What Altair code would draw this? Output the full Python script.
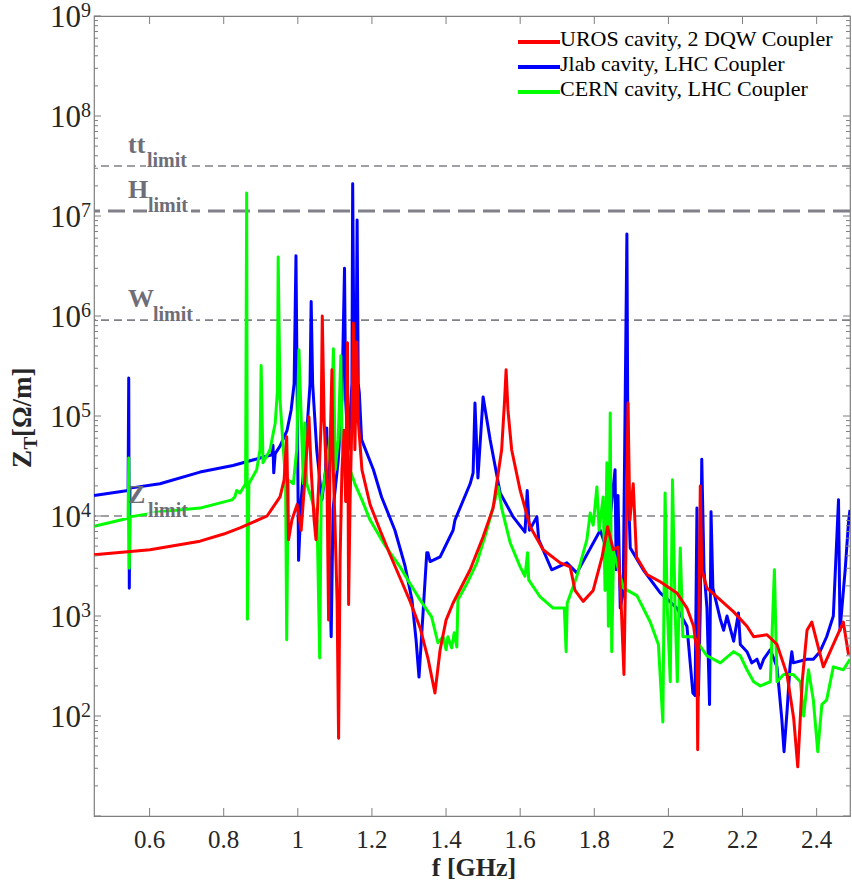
import altair as alt
import pandas as pd

W, H = 756, 800

# ---------------- data (f in GHz, Z_T in Ohm/m) ----------------
uros = [(0.450, 4.1e3), (0.601, 4.6e3), (0.736, 5.6e3), (0.800, 6.6e3), (0.844, 7.6e3), (0.917, 1.0e4),
        (0.952, 1.55e4), (0.963, 2.3e4), (0.970, 6.2e4), (0.975, 5.8e3), (0.984, 9.1e3), (0.998, 1.3e4),
        (1.009, 7.2e3), (1.019, 2.3e4), (1.030, 9.8e4), (1.036, 2.9e4), (1.044, 9.1e3), (1.049, 5.8e3),
        (1.057, 2.3e4), (1.063, 9.1e4), (1.066, 1.0e6), (1.071, 9.1e4), (1.079, 1.8e4), (1.083, 910),
        (1.087, 4.6e4), (1.092, 2.9e5), (1.095, 3.6e4), (1.100, 9.1e3), (1.106, 1.4e3), (1.110, 60),
        (1.114, 3.6e3), (1.119, 2.9e4), (1.125, 7.2e4), (1.129, 1.4e4), (1.134, 5.4e5), (1.137, 1.3e3),
        (1.141, 1.4e4), (1.146, 9.1e4), (1.150, 8.5e5), (1.154, 4.6e4), (1.159, 5.5e5), (1.163, 9.1e4),
        (1.173, 2.9e4), (1.195, 1.3e4), (1.222, 7.2e3), (1.249, 4.1e3), (1.276, 2.4e3), (1.303, 1.4e3),
        (1.330, 760), (1.351, 380), (1.370, 170), (1.384, 460), (1.400, 910), (1.419, 1.35e3),
        (1.465, 2.9e3), (1.500, 6.2e3), (1.527, 1.2e4), (1.550, 4.6e4), (1.558, 1.45e5), (1.562, 2.9e5),
        (1.567, 1.15e5), (1.577, 4.6e4), (1.600, 1.8e4), (1.627, 7.8e3), (1.662, 4.6e3), (1.708, 3.4e3),
        (1.735, 3.1e3), (1.748, 1.8e3), (1.770, 1.4e3), (1.797, 1.8e3), (1.821, 3.9e3), (1.836, 7.8e3),
        (1.851, 4.6e3), (1.864, 4.9e3), (1.872, 1.45e3), (1.880, 260), (1.885, 3.6e3), (1.891, 1.35e5),
        (1.896, 9.1e3), (1.905, 2.1e4), (1.914, 3.9e3), (1.942, 2.6e3), (1.978, 2.2e3), (2.023, 1.7e3),
        (2.050, 1.2e3), (2.068, 790), (2.077, 440), (2.079, 46), (2.083, 1.45e3), (2.086, 2.0e4),
        (2.090, 2.9e3), (2.104, 1.9e3), (2.140, 1.45e3), (2.176, 1.1e3), (2.212, 790), (2.230, 620),
        (2.266, 650), (2.293, 520), (2.320, 260), (2.338, 95), (2.349, 31), (2.361, 220), (2.374, 720),
        (2.387, 870), (2.418, 310), (2.445, 520), (2.472, 870), (2.486, 410)]

jlab = [(0.450, 1.6e4), (0.542, 1.8e4), (0.5437, 2.4e5), (0.5453, 1.9e3), (0.547, 1.9e4), (0.628, 2.1e4),
        (0.736, 2.75e4), (0.825, 3.2e4), (0.898, 3.8e4), (0.930, 4.1e4), (0.933, 5.1e4), (0.935, 2.7e4),
        (0.939, 4.2e4), (0.952, 5.0e4), (0.971, 7.2e4), (0.982, 1.15e5), (0.990, 2.1e5), (0.995, 4.0e6),
        (0.999, 9.1e4), (1.002, 3.6e3), (1.009, 1.45e4), (1.024, 6.8e4), (1.033, 2.1e5), (1.036, 1.4e6),
        (1.040, 2.1e5), (1.051, 4.6e4), (1.065, 1.45e4), (1.075, 2.9e4), (1.078, 7.6e4), (1.082, 1.15e4),
        (1.090, 620), (1.095, 1.15e4), (1.109, 3.6e4), (1.119, 1.45e5), (1.126, 3.0e6), (1.129, 1.45e5),
        (1.136, 4.6e4), (1.146, 2.1e5), (1.148, 2.1e7), (1.152, 2.1e5), (1.156, 9.1e4), (1.160, 9.1e6),
        (1.163, 2.1e5), (1.166, 1.7e5), (1.172, 5.8e4), (1.204, 2.9e4), (1.226, 1.55e4), (1.262, 7.2e3),
        (1.289, 3.2e3), (1.308, 1.45e3), (1.319, 580), (1.327, 245), (1.335, 720), (1.348, 4.3e3),
        (1.351, 4.3e3), (1.357, 3.5e3), (1.384, 3.9e3), (1.419, 7.2e3), (1.424, 9.1e3), (1.465, 2.1e4),
        (1.473, 2.7e4), (1.478, 1.35e5), (1.486, 2.4e4), (1.500, 1.55e5), (1.519, 5.8e4), (1.546, 1.7e4),
        (1.581, 9.8e3), (1.613, 6.9e3), (1.619, 1.8e4), (1.625, 7.2e3), (1.645, 9.8e3), (1.650, 5.8e3),
        (1.685, 2.9e3), (1.726, 3.4e3), (1.753, 2.7e3), (1.816, 7.2e3), (1.834, 4.6e3), (1.856, 2.9e4),
        (1.859, 2.9e3), (1.864, 1.6e4), (1.870, 1.2e3), (1.878, 1.7e3), (1.888, 6.6e6), (1.891, 2.4e4),
        (1.897, 4.8e3), (1.932, 2.9e3), (1.978, 1.7e3), (2.023, 1.2e3), (2.050, 790), (2.066, 170),
        (2.072, 160), (2.077, 1.2e4), (2.081, 160), (2.086, 1.2e3), (2.090, 3.7e4), (2.096, 2.9e3),
        (2.104, 1.2e3), (2.111, 130), (2.115, 1.1e4), (2.120, 1.9e3), (2.140, 930), (2.149, 720),
        (2.158, 1.0e3), (2.176, 560), (2.189, 1.07e3), (2.194, 520), (2.212, 440), (2.225, 340),
        (2.239, 370), (2.248, 300), (2.257, 370), (2.275, 460), (2.293, 310), (2.306, 93), (2.312, 44),
        (2.320, 110), (2.328, 310), (2.333, 440), (2.337, 340), (2.374, 370), (2.391, 370), (2.409, 440),
        (2.427, 620), (2.445, 1.0e3), (2.459, 1.45e4), (2.463, 720), (2.477, 2.9e3), (2.486, 8.7e3),
        (2.490, 1.15e4)]

cern = [(0.450, 7.9e3), (0.542, 9.5e3), (0.5437, 3.8e4), (0.5453, 3.0e3), (0.547, 9.8e3), (0.628, 1.1e4),
        (0.736, 1.2e4), (0.822, 1.45e4), (0.830, 1.55e4), (0.835, 1.8e4), (0.844, 1.7e4), (0.859, 2.1e4),
        (0.862, 1.7e7), (0.864, 930), (0.868, 2.1e4), (0.889, 2.9e4), (0.898, 4.6e4), (0.901, 3.2e5),
        (0.906, 3.4e4), (0.925, 4.6e4), (0.939, 8.5e4), (0.945, 1.8e5), (0.947, 3.9e6), (0.952, 1.45e5),
        (0.961, 4.6e4), (0.967, 2.3e4), (0.970, 580), (0.974, 2.3e4), (0.988, 2.1e4), (0.997, 4.6e4),
        (1.003, 4.6e5), (1.009, 9.8e4), (1.015, 2.1e4), (1.019, 8.5e4), (1.024, 2.1e4), (1.038, 1.45e4),
        (1.052, 9.1e3), (1.059, 380), (1.063, 1.45e4), (1.076, 2.9e4), (1.090, 7.2e4), (1.096, 4.7e5),
        (1.101, 2.9e4), (1.109, 5.8e4), (1.116, 4.0e5), (1.119, 5.8e4), (1.128, 2.3e4), (1.141, 2.9e4),
        (1.154, 2.1e4), (1.173, 1.45e4), (1.195, 9.1e3), (1.235, 5.1e3), (1.276, 3.1e3), (1.303, 2.1e3),
        (1.330, 1.45e3), (1.361, 980), (1.378, 540), (1.392, 620), (1.400, 460), (1.405, 620),
        (1.415, 480), (1.422, 680), (1.429, 490), (1.432, 1.45e3), (1.456, 2.1e3), (1.483, 3.4e3),
        (1.510, 7.2e3), (1.532, 1.45e4), (1.541, 1.95e4), (1.550, 1.2e4), (1.573, 5.4e3), (1.600, 3.1e3),
        (1.613, 2.5e3), (1.620, 4.3e3), (1.623, 2.3e3), (1.654, 1.55e3), (1.689, 1.2e3), (1.719, 1.2e3),
        (1.724, 440), (1.727, 1.35e3), (1.753, 2.5e3), (1.780, 5.8e3), (1.789, 1.07e4), (1.797, 8.1e3),
        (1.807, 1.95e4), (1.813, 7.2e3), (1.824, 1.55e4), (1.829, 1.8e3), (1.834, 3.4e4), (1.838, 790),
        (1.843, 1.07e5), (1.847, 440), (1.852, 4.4e3), (1.879, 1.9e3), (1.915, 1.6e3), (1.951, 870),
        (1.973, 520), (1.985, 87), (1.991, 1.7e4), (1.997, 1.2e3), (2.005, 220), (2.011, 2.3e4),
        (2.018, 1.2e3), (2.024, 220), (2.032, 4.8e3), (2.039, 620), (2.068, 620), (2.104, 400),
        (2.140, 340), (2.176, 440), (2.194, 400), (2.212, 290), (2.230, 220), (2.248, 200), (2.275, 220),
        (2.286, 2.9e3), (2.293, 220), (2.311, 260), (2.337, 260), (2.356, 220), (2.365, 100), (2.378, 290),
        (2.391, 145), (2.403, 44), (2.414, 130), (2.427, 145), (2.445, 310), (2.472, 290), (2.490, 370)]

series_names = ["UROS cavity, 2 DQW Coupler", "Jlab cavity, LHC Coupler", "CERN cavity, LHC Coupler"]
series_data = [uros, jlab, cern]

limit_main = ["tt", "H", "W", "Z"]
limit_sub = ["limit", "limit", "limit", "limit"]
limit_value = [3.16e7, 1.12e7, 9.1e5, 1.0e4]

x_tick_values = [0.6, 0.8, 1.0, 1.2, 1.4, 1.6, 1.8, 2.0, 2.2, 2.4]
x_tick_labels = ["0.6", "0.8", "1", "1.2", "1.4", "1.6", "1.8", "2", "2.2", "2.4"]
y_label_exponents = [2, 3, 4, 5, 6, 7, 8, 9]
y_decade_exponents = [1, 2, 3, 4, 5, 6, 7, 8, 9]

# ---------------- styles ----------------
series_colors = {"UROS cavity, 2 DQW Coupler": "#ff0000",
                 "Jlab cavity, LHC Coupler": "#0000ff",
                 "CERN cavity, LHC Coupler": "#00ff00"}
draw_order = ["Jlab cavity, LHC Coupler", "CERN cavity, LHC Coupler", "UROS cavity, 2 DQW Coupler"]
SERIF = "Liberation Serif"
AX = "#7f7f7f"
TXT = "#262626"
LIM = "#6e6e78"
limit_sub_dx = {"tt": 19, "H": 20, "W": 25, "Z": 20}

xs = alt.Scale(domain=[0.45, 2.49], nice=False, zero=False)
ys = alt.Scale(type="log", domain=[10, 1e9], nice=False)

layers = []

# dashed limit lines
lim_df = pd.DataFrame({"name": limit_main, "sub": limit_sub, "v": limit_value})
layers.append(alt.Chart(lim_df).transform_filter(alt.datum.name != "H").mark_rule(
    color="#808088", strokeWidth=1.6, strokeDash=[8, 5]).encode(y=alt.Y("v:Q", scale=ys, axis=None)))
layers.append(alt.Chart(lim_df).transform_filter(alt.datum.name == "H").mark_rule(
    color="#808088", strokeWidth=3, strokeDash=[17, 8]).encode(y=alt.Y("v:Q", scale=ys, axis=None)))

# series lines
for name in draw_order:
    pts = series_data[series_names.index(name)]
    df = pd.DataFrame({"f": [p[0] for p in pts], "z": [p[1] for p in pts], "i": list(range(len(pts)))})
    layers.append(alt.Chart(df).mark_line(color=series_colors[name], strokeWidth=3, clip=True,
                                          strokeJoin="round").encode(
        x=alt.X("f:Q", scale=xs, axis=None),
        y=alt.Y("z:Q", scale=ys, axis=None),
        order="i:Q"))

# limit labels (white background behind subscript)
for nm, sb, v in zip(limit_main, limit_sub, limit_value):
    d = pd.DataFrame({"v": [v], "main": [nm], "sub": [sb]})
    sx = 34 + limit_sub_dx[nm]
    layers.append(alt.Chart(d).mark_rule(color="white", strokeWidth=7).encode(
        y=alt.Y("v:Q", scale=ys, axis=None), x=alt.value(sx - 1), x2=alt.value(sx + 43)))
    layers.append(alt.Chart(d).mark_text(font=SERIF, fontWeight="bold", fontSize=26, color=LIM,
                                         align="left", baseline="alphabetic", dy=-13).encode(
        y=alt.Y("v:Q", scale=ys, axis=None), x=alt.value(34), text="main:N"))
    layers.append(alt.Chart(d).mark_text(font=SERIF, fontWeight="bold", fontSize=20, color=LIM,
                                         align="left", baseline="alphabetic", dy=1).encode(
        y=alt.Y("v:Q", scale=ys, axis=None), x=alt.value(sx), text="sub:N"))

# ticks (inward, MATLAB style)
maj = pd.DataFrame({"v": [10.0 ** e for e in y_decade_exponents]})
mino = pd.DataFrame({"v": [k * 10.0 ** e for e in y_decade_exponents[:-1] for k in range(2, 10)]})
for d, ln in [(maj, 7), (mino, 4)]:
    layers.append(alt.Chart(d).mark_rule(color=AX, strokeWidth=1).encode(
        y=alt.Y("v:Q", scale=ys, axis=None), x=alt.value(0), x2=alt.value(ln)))
    layers.append(alt.Chart(d).mark_rule(color=AX, strokeWidth=1).encode(
        y=alt.Y("v:Q", scale=ys, axis=None), x=alt.value(W), x2=alt.value(W - ln)))
xt = pd.DataFrame({"v": x_tick_values, "lab": x_tick_labels})
layers.append(alt.Chart(xt).mark_rule(color=AX, strokeWidth=1).encode(
    x=alt.X("v:Q", scale=xs, axis=None), y=alt.value(H), y2=alt.value(H - 8)))
layers.append(alt.Chart(xt).mark_rule(color=AX, strokeWidth=1).encode(
    x=alt.X("v:Q", scale=xs, axis=None), y=alt.value(0), y2=alt.value(8)))

# tick labels
layers.append(alt.Chart(xt).mark_text(font=SERIF, fontSize=25, color=TXT, align="center",
                                      baseline="alphabetic").encode(
    x=alt.X("v:Q", scale=xs, axis=None), y=alt.value(H + 32), text="lab:N"))
yl = pd.DataFrame({"v": [10.0 ** e for e in y_label_exponents], "base": ["10"] * len(y_label_exponents),
                   "exp": [str(e) for e in y_label_exponents]})
layers.append(alt.Chart(yl).mark_text(font=SERIF, fontSize=31, color=TXT, align="right",
                                      baseline="alphabetic", dy=11).encode(
    y=alt.Y("v:Q", scale=ys, axis=None), x=alt.value(-13), text="base:N"))
layers.append(alt.Chart(yl).mark_text(font=SERIF, fontSize=20, color=TXT, align="left",
                                      baseline="alphabetic", dy=1).encode(
    y=alt.Y("v:Q", scale=ys, axis=None), x=alt.value(-13), text="exp:N"))

# axis titles
one = lambda t: pd.DataFrame({"t": [t]})
layers.append(alt.Chart(one("f [GHz]")).mark_text(font=SERIF, fontWeight="bold", fontSize=26, color=TXT,
                                                  align="center", baseline="alphabetic").encode(
    x=alt.value(380), y=alt.value(H + 60), text="t:N"))
for t, xv, yv, fs in [("Z", -63, 452, 27), ("T", -57, 433.5, 19), ("[Ω/m]", -63, 421, 27)]:
    layers.append(alt.Chart(one(t)).mark_text(font=SERIF, fontWeight="bold", fontSize=fs, color=TXT,
                                              align="left", baseline="alphabetic", angle=270).encode(
        x=alt.value(xv), y=alt.value(yv), text="t:N"))

# legend
for i, name in enumerate(series_names):
    ly = 26 + 25 * i
    d = one(name)
    layers.append(alt.Chart(d).mark_rule(color=series_colors[name], strokeWidth=4).encode(
        x=alt.value(424), x2=alt.value(466), y=alt.value(ly)))
    layers.append(alt.Chart(d).mark_text(font=SERIF, fontSize=22, color="black", align="left",
                                         baseline="alphabetic").encode(
        x=alt.value(466), y=alt.value(ly + 3.5), text="t:N"))

chart = alt.layer(*layers).properties(
    width=W, height=H, autosize="none",
    padding={"left": 94, "top": 16, "right": 2, "bottom": 70},
    background="white",
).configure_view(stroke=AX, strokeWidth=1.2)

chart.save("out.html", embed_options={"renderer": "svg", "actions": False})
